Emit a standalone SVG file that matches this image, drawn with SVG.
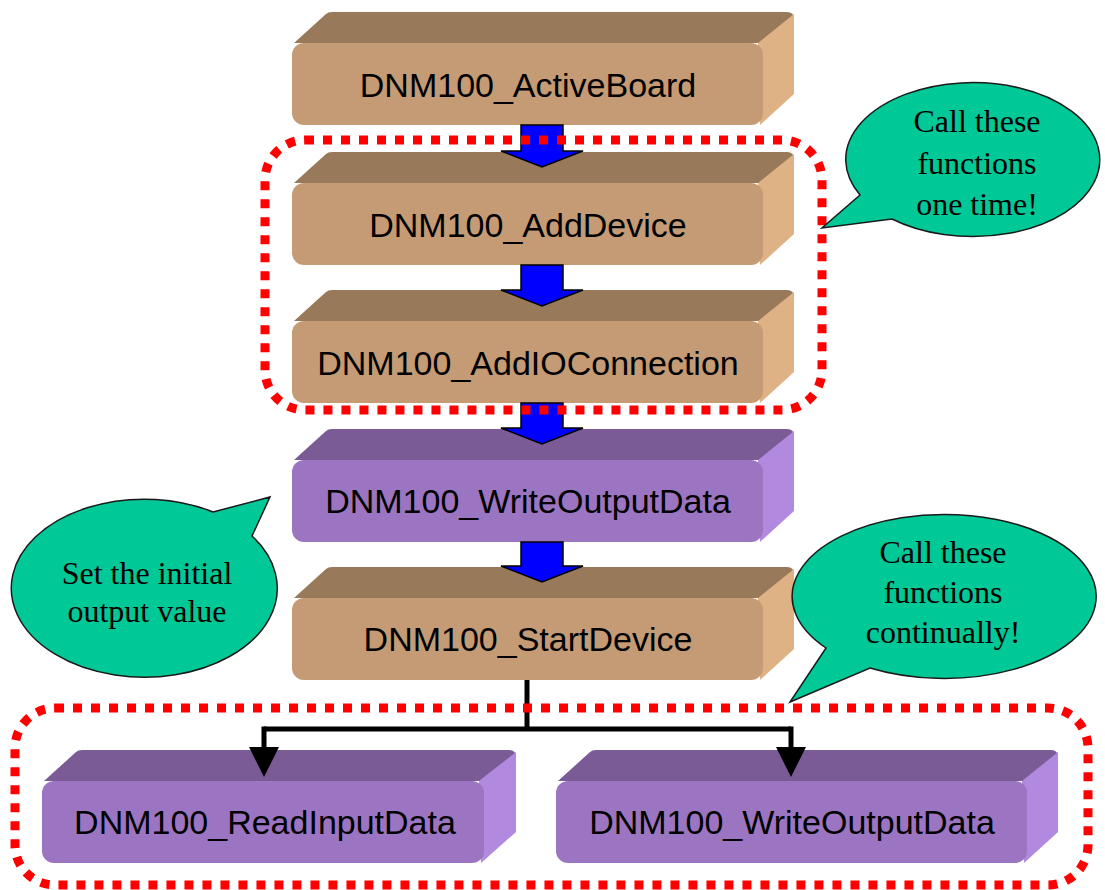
<svg xmlns="http://www.w3.org/2000/svg" width="1105" height="890" viewBox="0 0 1105 890">
<style>
.tf{fill:#C49B74}.tt{fill:#98795A}.tr{fill:#DFB285}
.pf{fill:#9B75C1}.pt{fill:#7A5B96}.pr{fill:#B189DE}
.lbl{font-family:"Liberation Sans",Arial,sans-serif;font-size:34px;fill:#000;text-anchor:middle}
.cl{font-family:"Liberation Serif","Times New Roman",serif;font-size:32px;fill:#000;text-anchor:middle}
.barrow{fill:#0000FF;stroke:#000;stroke-width:1.5;stroke-linejoin:miter}
.dot{fill:none;stroke:#FF0000;stroke-width:9;stroke-dasharray:9 9}
.bub{fill:#00C896;stroke:#1a1a1a;stroke-width:1.5}
.wire{fill:none;stroke:#000;stroke-width:5}
</style>
<defs>
<marker id="ah" markerWidth="6" markerHeight="6" refX="5" refY="3" orient="auto" markerUnits="strokeWidth">
<path d="M0,0 L6,3 L0,6 Z" fill="#000"/>
</marker>
</defs>

<g id="n1">
<path class="tt" d="M294,43 L326,14 Q328,12 332,12 L787,12 Q794,12 794,19 L763,43 Z"/>
<path class="tr" d="M758,43 L794,14 L794,94 L760,125 Z"/>
<rect class="tf" x="292" y="43" width="471" height="82" rx="12"/>
<text class="lbl" x="528" y="97">DNM100_ActiveBoard</text>
</g>

<g id="n2">
<path class="tt" d="M294,183 L326,154 Q328,152 332,152 L787,152 Q794,152 794,159 L763,183 Z"/>
<path class="tr" d="M758,183 L794,154 L794,234 L760,265 Z"/>
<rect class="tf" x="292" y="183" width="471" height="82" rx="12"/>
<text class="lbl" x="528" y="237">DNM100_AddDevice</text>
</g>

<g id="n3">
<path class="tt" d="M294,321 L326,292 Q328,290 332,290 L787,290 Q794,290 794,297 L763,321 Z"/>
<path class="tr" d="M758,321 L794,292 L794,372 L760,403 Z"/>
<rect class="tf" x="292" y="321" width="471" height="82" rx="12"/>
<text class="lbl" x="528" y="375">DNM100_AddIOConnection</text>
</g>

<g id="n4">
<path class="pt" d="M294,460 L326,431 Q328,429 332,429 L787,429 Q794,429 794,436 L763,460 Z"/>
<path class="pr" d="M758,460 L794,431 L794,511 L760,542 Z"/>
<rect class="pf" x="292" y="460" width="471" height="82" rx="12"/>
<text class="lbl" x="528" y="513">DNM100_WriteOutputData</text>
</g>

<g id="n5">
<path class="tt" d="M294,598 L326,569 Q328,567 332,567 L787,567 Q794,567 794,574 L763,598 Z"/>
<path class="tr" d="M758,598 L794,569 L794,649 L760,680 Z"/>
<rect class="tf" x="292" y="598" width="471" height="82" rx="12"/>
<text class="lbl" x="528" y="651">DNM100_StartDevice</text>
</g>

<g id="n6">
<path class="pt" d="M44,781 L76,752 Q78,750 82,750 L509,750 Q516,750 516,757 L484,781 Z"/>
<path class="pr" d="M479,781 L516,752 L516,832 L481,863 Z"/>
<rect class="pf" x="42" y="781" width="442" height="82" rx="12"/>
<text class="lbl" x="265" y="834">DNM100_ReadInputData</text>
</g>

<g id="n7">
<path class="pt" d="M558,781 L590,752 Q592,750 596,750 L1051,750 Q1058,750 1058,757 L1027,781 Z"/>
<path class="pr" d="M1022,781 L1058,752 L1058,832 L1024,863 Z"/>
<rect class="pf" x="556" y="781" width="471" height="82" rx="12"/>
<text class="lbl" x="792" y="834">DNM100_WriteOutputData</text>
</g>

<g id="connectors">
<path class="barrow" d="M521,125 L563,125 L563,151 L583,151 L542,167 L501,151 L521,151 Z"/>
<path class="barrow" d="M521,265 L563,265 L563,290 L583,290 L542,306 L501,290 L521,290 Z"/>
<path class="barrow" d="M521,403 L563,403 L563,428 L583,428 L542,444 L501,428 L521,428 Z"/>
<path class="barrow" d="M521,542 L563,542 L563,566 L583,566 L542,582 L501,566 L521,566 Z"/>
<path class="wire" d="M527,680 L527,729"/>
<path class="wire" d="M264,729 L791,729"/>
<path class="wire" d="M264,726.5 L264,772" marker-end="url(#ah)"/>
<path class="wire" d="M791,726.5 L791,772" marker-end="url(#ah)"/>
</g>

<g id="group-once">
<rect class="dot" x="265" y="140" width="557" height="270" rx="40"/>
</g>
<g id="group-loop">
<rect class="dot" x="15" y="708" width="1073" height="177" rx="40"/>
</g>

<g id="callout-once">
<path class="bub" d="M860,195 L822,228 L892,219 A127 77 0 1 0 860,195 Z"/>
<text class="cl" x="977" y="132">Call these</text>
<text class="cl" x="977" y="174">functions</text>
<text class="cl" x="977" y="215">one time!</text>
</g>

<g id="callout-init">
<path class="bub" d="M213,512 L270,497 L252,536 A133 89 0 1 1 213,512 Z"/>
<text class="cl" x="147" y="584">Set the initial</text>
<text class="cl" x="147" y="622">output value</text>
</g>

<g id="callout-loop">
<path class="bub" d="M826,648 L790,702 L870,668 A152 82 0 1 0 826,648 Z"/>
<text class="cl" x="943" y="563">Call these</text>
<text class="cl" x="943" y="603">functions</text>
<text class="cl" x="943" y="643">continually!</text>
</g>
</svg>
